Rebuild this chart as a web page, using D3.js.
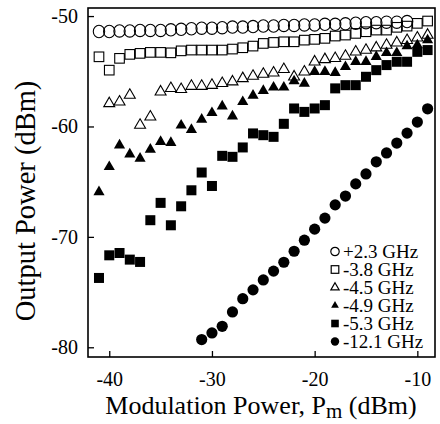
<!DOCTYPE html>
<html>
<head>
<meta charset="utf-8">
<script src="https://cdn.jsdelivr.net/npm/d3@7"></script>
<style>
html,body{margin:0;padding:0;background:#fff;}
svg text{font-family:"Liberation Serif","Times New Roman",serif !important;fill:#000;}
</style>
</head>
<body>
<svg id="chart" width="440" height="424" font-family="Liberation Serif"></svg>
<script>
// ---- data ----
const seriesNames = ["+2.3 GHz","-3.8 GHz","-4.5 GHz","-4.9 GHz","-5.3 GHz","-12.1 GHz"];
const xTicks = [-40,-30,-20,-10];
const yTicks = [-80,-70,-60,-50];

const x_p23 = [-41,-40,-39,-38,-37,-36,-35,-34,-33,-32,-31,-30,-29,-28,-27,-26,-25,-24,-23,-22,-21,-20,-19,-18,-17,-16,-15,-14,-13,-12,-11];
const y_p23 = [-51.4,-51.4,-51.35,-51.35,-51.3,-51.3,-51.3,-51.25,-51.2,-51.15,-51.1,-51.1,-51.05,-51.0,-51.0,-50.95,-50.9,-50.9,-50.85,-50.85,-50.8,-50.8,-50.75,-50.75,-50.7,-50.65,-50.6,-50.6,-50.55,-50.55,-50.5];

const x_m38 = [-41,-40,-39,-38,-37,-36,-35,-34,-33,-32,-31,-30,-29,-28,-27,-26,-25,-24,-23,-22,-21,-20,-19,-18,-17,-16,-15,-14,-13,-12,-11,-10,-9];
const y_m38 = [-53.69,-54.90,-53.83,-53.47,-53.38,-53.29,-53.29,-53.33,-53.15,-53.08,-53.08,-53.08,-53.08,-52.99,-52.87,-52.72,-52.48,-52.39,-52.33,-52.33,-52.18,-52.11,-52.02,-51.81,-51.72,-51.57,-51.42,-51.27,-51.27,-51.02,-50.91,-50.66,-50.45];

const x_m45 = [-40,-39,-38,-37,-36,-35,-34,-33,-32,-31,-30,-29,-28,-27,-26,-25,-24,-23,-22,-21,-20,-19,-18,-17,-16,-15,-14,-13,-12,-11,-10,-9];
const y_m45 = [-57.92,-57.77,-57.16,-59.88,-59.13,-56.86,-56.55,-56.64,-56.35,-56.35,-56.26,-56.10,-55.95,-55.65,-55.44,-55.26,-55.14,-54.83,-55.50,-55.05,-54.14,-53.93,-53.83,-53.63,-53.24,-53.08,-52.87,-52.63,-52.42,-52.2,-51.97,-51.72];

const x_m49 = [-41,-40,-39,-38,-37,-36,-35,-34,-33,-32,-31,-30,-29,-28,-27,-26,-25,-24,-23,-22,-21,-20,-19,-18,-17,-16,-15,-14,-13,-12,-11,-10,-9];
const y_m49 = [-65.93,-63.66,-61.70,-62.51,-62.90,-62.09,-61.39,-61.48,-59.9,-60.3,-59.37,-58.77,-58.16,-59.07,-57.77,-57.2,-56.77,-56.46,-56.46,-55.89,-56.10,-55.05,-55.05,-55.14,-54.60,-54.14,-54.14,-53.69,-53.33,-53.33,-52.72,-52.63,-52.18];

const x_m53 = [-41,-40,-39,-38,-37,-36,-35,-34,-33,-32,-31,-30,-29,-28,-27,-26,-25,-24,-23,-22,-21,-20,-19,-18,-17,-16,-15,-14,-13,-12,-11,-10,-9];
const y_m53 = [-73.72,-71.67,-71.46,-72.06,-72.27,-68.49,-66.92,-68.95,-67.23,-65.78,-64.17,-65.39,-62.66,-62.75,-61.9,-60.63,-60.79,-60.94,-59.76,-58.37,-58.68,-58.37,-58.07,-56.55,-56.26,-56.26,-55.50,-54.90,-54.44,-54.14,-54.14,-53.24,-53.08];

const x_m121 = [-31,-30,-29,-28,-27,-26,-25,-24,-23,-22,-21,-20,-19,-18,-17,-16,-15,-14,-13,-12,-11,-10,-9];
const y_m121 = [-79.3,-78.7,-78.1,-76.8,-75.6,-74.8,-73.9,-73.1,-72.3,-71.3,-70.3,-69.3,-68.3,-67.1,-66.3,-65.2,-64.3,-63.2,-62.4,-61.5,-60.6,-59.6,-58.4];

// ---- layout ----
const svg = d3.select("#chart");
const L = 88, R = 435, T = 8, B = 357;
const x = d3.scaleLinear().domain([-42.07, -8.28]).range([L, R]);
const y = d3.scaleLinear().domain([-80.88, -49.27]).range([B, T]);

const zip = (xs, ys) => xs.map((v, i) => ({x: v, y: ys[i]}));
const g = svg.append("g");

function drawSymbol(sel, type, filled) {
  if (type === "circle") {
    if (filled) sel.append("circle").attr("r", 5.6).attr("fill", "#000");
    else sel.append("ellipse").attr("rx", 5.7).attr("ry", 6.2).attr("fill", "none").attr("stroke", "#000").attr("stroke-width", 1.1);
  } else if (type === "square") {
    const s = filled ? 10 : 9.6;
    sel.append("rect").attr("x", -s/2).attr("y", -s/2).attr("width", s).attr("height", s)
      .attr("fill", filled ? "#000" : "none").attr("stroke", filled ? "none" : "#000").attr("stroke-width", 1.1);
  } else {
    sel.append("path").attr("d", d3.symbol(d3.symbolTriangle, filled ? 54 : 52)())
      .attr("fill", filled ? "#000" : "none").attr("stroke", filled ? "none" : "#000").attr("stroke-width", 1.1);
  }
}

const series = [
  {data: zip(x_p23, y_p23), type: "circle", filled: false},
  {data: zip(x_m38, y_m38), type: "square", filled: false},
  {data: zip(x_m45, y_m45), type: "triangle", filled: false},
  {data: zip(x_m49, y_m49), type: "triangle", filled: true},
  {data: zip(x_m53, y_m53), type: "square", filled: true},
  {data: zip(x_m121, y_m121), type: "circle", filled: true}
];

series.forEach(s => {
  const pts = g.append("g").selectAll("g").data(s.data).join("g")
    .attr("transform", d => `translate(${x(d.x)},${y(d.y)})`);
  pts.each(function() { drawSymbol(d3.select(this), s.type, s.filled); });
});

// ---- axes ----
const fmt = d => String(d);
const xAxis = d3.axisBottom(x).tickValues(xTicks).tickSizeInner(-6).tickSizeOuter(0).tickPadding(15).tickFormat(fmt);
const yAxis = d3.axisLeft(y).tickValues(yTicks).tickSizeInner(-6).tickSizeOuter(0).tickPadding(10).tickFormat(fmt);

const gx = svg.append("g").attr("transform", `translate(0,${B})`).call(xAxis);
const gy = svg.append("g").attr("transform", `translate(${L},0)`).call(yAxis);
[gx, gy].forEach(a => {
  a.attr("font-family", "Liberation Serif").attr("font-size", 20);
  a.select(".domain").remove();
  a.selectAll(".tick line").attr("stroke", "#000").attr("stroke-width", 1.3);
  a.selectAll(".tick text").attr("fill", "#000");
});

// frame
svg.append("rect").attr("x", L).attr("y", T).attr("width", R - L).attr("height", B - T)
  .attr("fill", "none").attr("stroke", "#000").attr("stroke-width", 1.6);

// axis titles
const xt = svg.append("text").attr("x", 261).attr("y", 414).attr("text-anchor", "middle")
  .attr("font-size", 26);
xt.append("tspan").text("Modulation Power, P");
xt.append("tspan").attr("dy", 4).attr("font-size", 21).text("m");
xt.append("tspan").attr("dy", -4).text(" (dBm)");

svg.append("text").attr("transform", `translate(35,201) rotate(-90)`).attr("text-anchor", "middle")
  .attr("font-size", 28.5).text("Output Power (dBm)");

// ---- legend ----
const lg = svg.append("g");
const rows = lg.selectAll("g").data(series).join("g")
  .attr("transform", (d, i) => `translate(335,${251.5 + i * 18})`);
rows.each(function(d) {
  const r = d3.select(this);
  if (d.type === "circle") {
    r.append("circle").attr("r", 4.2).attr("fill", d.filled ? "#000" : "none").attr("stroke", "#000").attr("stroke-width", d.filled ? 0 : 1.2);
  } else if (d.type === "square") {
    r.append("rect").attr("x", -3.8).attr("y", -3.8).attr("width", 7.6).attr("height", 7.6)
      .attr("fill", d.filled ? "#000" : "none").attr("stroke", d.filled ? "none" : "#000").attr("stroke-width", 1.2);
  } else {
    r.append("path").attr("d", d3.symbol(d3.symbolTriangle, d.filled ? 26 : 30)())
      .attr("fill", d.filled ? "#000" : "none").attr("stroke", d.filled ? "none" : "#000").attr("stroke-width", 1.2);
  }
});
rows.append("text").attr("x", 8).attr("y", 6.5).attr("font-size", 19)
  .text((d, i) => seriesNames[i]);
</script>
</body>
</html>
